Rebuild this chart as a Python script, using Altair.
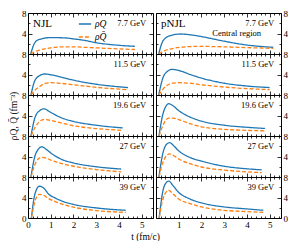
import altair as alt
import pandas as pd

FONT = "Liberation Serif"
BLUE = "#1f77b4"
ORANGE = "#ff7f0e"

energies = ["7.7 GeV", "11.5 GeV", "19.6 GeV", "27 GeV", "39 GeV"]
models = ["NJL", "pNJL"]
series = ["ρQ", "ρQ̄"]
x_major = [0, 1, 2, 3, 4, 5]
x_minor = [round(i * 0.2, 1) for i in range(28) if i % 5 != 0]
y_major = [0, 4, 8]
y_minor = [2, 6]

# NJL panels
njl_77_t = [0.12, 0.3, 0.5, 1.0, 1.6, 2.0, 2.5, 3.0, 4.0, 4.7]
njl_77_q = [0, 2.2, 2.85, 3.2, 3.15, 2.95, 2.65, 2.2, 1.7, 1.5]
njl_77_qb = [0, 0.45, 0.75, 1.2, 1.4, 1.4, 1.3, 1.2, 1.0, 0.88]

njl_115_t = [0.13, 0.3, 0.5, 0.75, 1.0, 1.5, 2.0, 3.0, 4.0, 4.4]
njl_115_q = [0, 2.8, 3.75, 4.1, 3.95, 3.45, 2.9, 2.1, 1.6, 1.45]
njl_115_qb = [0, 0.9, 1.6, 2.25, 2.4, 2.25, 2.0, 1.5, 1.15, 1.05]

njl_196_t = [0.13, 0.3, 0.5, 0.7, 1.0, 1.5, 2.0, 3.0, 4.17]
njl_196_q = [0, 3.5, 4.9, 5.3, 4.6, 3.5, 2.85, 2.1, 1.58]
njl_196_qb = [0, 1.6, 2.8, 3.2, 3.05, 2.5, 2.0, 1.45, 1.1]

njl_27_t = [0.13, 0.3, 0.45, 0.6, 0.8, 1.0, 1.5, 2.0, 3.0, 4.1]
njl_27_q = [0, 4.0, 5.4, 5.9, 5.4, 4.7, 3.4, 2.75, 2.0, 1.55]
njl_27_qb = [0, 2.4, 3.5, 3.85, 3.7, 3.3, 2.6, 2.1, 1.45, 1.0]

njl_39_t = [0.15, 0.3, 0.5, 0.7, 0.9, 1.2, 1.5, 2.0, 3.0, 4.3]
njl_39_q = [0, 4.6, 6.2, 5.8, 4.7, 3.9, 3.3, 2.65, 1.97, 1.5]
njl_39_qb = [0, 3.2, 4.6, 4.4, 3.8, 3.2, 2.7, 2.1, 1.45, 1.1]

# pNJL panels
pnjl_77_t = [0.12, 0.3, 0.6, 1.07, 1.5, 2.0, 2.5, 3.0, 4.0, 5.16]
pnjl_77_q = [0, 2.5, 3.55, 3.9, 3.75, 3.4, 2.95, 2.5, 1.75, 1.3]
pnjl_77_qb = [0, 0.5, 0.95, 1.3, 1.45, 1.5, 1.45, 1.4, 1.25, 1.1]

pnjl_115_t = [0.12, 0.3, 0.5, 0.7, 1.0, 1.5, 2.0, 3.0, 4.0, 5.0]
pnjl_115_q = [0, 3.3, 4.6, 5.0, 4.8, 4.0, 3.3, 2.3, 1.75, 1.45]
pnjl_115_qb = [0, 1.1, 1.9, 2.3, 2.4, 2.3, 2.0, 1.55, 1.25, 1.05]

pnjl_196_t = [0.13, 0.3, 0.45, 0.56, 0.75, 1.0, 1.5, 2.0, 3.0, 4.0, 4.8]
pnjl_196_q = [0, 4.2, 5.9, 6.3, 5.9, 4.95, 3.7, 2.9, 2.1, 1.7, 1.47]
pnjl_196_qb = [0, 2.0, 3.2, 3.5, 3.5, 3.2, 2.4, 1.8, 1.3, 1.1, 1.0]

pnjl_27_t = [0.13, 0.3, 0.45, 0.6, 0.8, 1.0, 1.5, 2.0, 3.0, 4.0, 4.65]
pnjl_27_q = [0, 4.6, 6.3, 6.7, 6.0, 5.1, 3.8, 3.1, 2.1, 1.6, 1.4]
pnjl_27_qb = [0, 2.8, 4.1, 4.5, 4.1, 3.5, 2.6, 1.95, 1.35, 1.0, 0.85]

pnjl_39_t = [0.14, 0.3, 0.45, 0.56, 0.75, 1.0, 1.5, 2.0, 3.0, 4.0, 4.72]
pnjl_39_q = [0, 5.2, 6.9, 7.2, 6.3, 5.0, 3.7, 2.95, 2.16, 1.77, 1.5]
pnjl_39_qb = [0, 3.6, 5.1, 5.4, 4.7, 3.7, 2.8, 2.16, 1.5, 1.25, 1.1]

njl_panels = [(njl_77_t, njl_77_q, njl_77_qb), (njl_115_t, njl_115_q, njl_115_qb),
              (njl_196_t, njl_196_q, njl_196_qb), (njl_27_t, njl_27_q, njl_27_qb),
              (njl_39_t, njl_39_q, njl_39_qb)]
pnjl_panels = [(pnjl_77_t, pnjl_77_q, pnjl_77_qb), (pnjl_115_t, pnjl_115_q, pnjl_115_qb),
               (pnjl_196_t, pnjl_196_q, pnjl_196_qb), (pnjl_27_t, pnjl_27_q, pnjl_27_qb),
               (pnjl_39_t, pnjl_39_q, pnjl_39_qb)]

W, H = 125, 41
XS = alt.Scale(domain=[0, 5.5], nice=False, zero=False)
YS = alt.Scale(domain=[0, 8], nice=False, zero=False)


def tick_axis(orient, values, size):
    return alt.Axis(orient=orient, values=values, labels=False, domain=False, grid=False,
                    tickSize={"expr": str(-size)}, tickColor="black", tickWidth=0.8, title="")


def axis_layer(xa, ya):
    return alt.Chart().mark_point(opacity=0).encode(
        x=alt.X("t:Q", scale=XS, axis=xa),
        y=alt.Y("v:Q", scale=YS, axis=ya),
    )


def panel(row, col, t, q, qb):
    df = pd.DataFrame({"t": t + t, "v": q + qb,
                       "s": [series[0]] * len(t) + [series[1]] * len(t)})
    first = row == 0 and col == 0
    leg = alt.Legend(orient="none", legendX=50, legendY=4, title=None,
                     labelFont=FONT, labelFontStyle="italic", labelFontSize=9.5,
                     symbolType="stroke", symbolSize=150, symbolStrokeWidth=1.5,
                     rowPadding=1, labelOffset=3, padding=0) if first else None
    lines = alt.Chart().mark_line(strokeWidth=1.3, interpolate="monotone").encode(
        x=alt.X("t:Q", scale=XS, axis=None),
        y=alt.Y("v:Q", scale=YS, axis=None),
        color=alt.Color("s:N", scale=alt.Scale(domain=series, range=[BLUE, ORANGE]), legend=leg),
        strokeDash=alt.StrokeDash("s:N", scale=alt.Scale(domain=series, range=[[1, 0], [4, 2]]), legend=leg),
    )
    A = axis_layer(tick_axis("bottom", x_major, 4), tick_axis("left", y_major, 4))
    B = axis_layer(tick_axis("top", x_major, 4), tick_axis("right", y_major, 4))
    C = axis_layer(tick_axis("bottom", x_minor, 2), tick_axis("left", y_minor, 2))
    D = axis_layer(tick_axis("top", x_minor, 2), tick_axis("right", y_minor, 2))

    bottom = row == 4
    yvals = [0, 4, 8] if bottom else [4, 8]
    ytitle = "ρQ, Q̄ (fm⁻³)" if (col == 0 and row == 2) else ""
    ya = alt.Axis(orient="left" if col == 0 else "right", values=yvals, ticks=False,
                  domain=False, grid=False, labelPadding=2, format="d", title=ytitle,
                  titlePadding=3)
    if bottom:
        xa = alt.Axis(orient="bottom", values=x_major if col == 0 else x_major[1:], ticks=False,
                      domain=False, grid=False, labelPadding=2, format="d", labelFlush=False,
                      labelOverlap=False, title="t (fm/c)" if col == 0 else "",
                      titleX=117, titlePadding=2)
    else:
        xa = None
    E = axis_layer(xa, ya)

    e_txt = alt.Chart(pd.DataFrame({"label": [energies[row]]})).mark_text(
        align="right", baseline="alphabetic", fontSize=8.5, font=FONT, color="black").encode(
        x=alt.X(datum=5.2, axis=None), y=alt.Y(datum=5.5, axis=None), text="label:N")
    layers = [lines, A, B, C, D, E, e_txt]
    if row == 0:
        m_txt = alt.Chart(pd.DataFrame({"label": [models[col]]})).mark_text(
            align="left", baseline="alphabetic", fontSize=11, font=FONT, color="black").encode(
            x=alt.X(datum=0.22, axis=None), y=alt.Y(datum=5.2, axis=None), text="label:N")
        layers.append(m_txt)
        if col == 1:
            c_txt = alt.Chart(pd.DataFrame({"label": ["Central region"]})).mark_text(
                align="center", baseline="alphabetic", fontSize=8.5, font=FONT, color="black").encode(
                x=alt.X(datum=3.55, axis=None), y=alt.Y(datum=3.55, axis=None), text="label:N")
            layers.append(c_txt)
    return alt.layer(*layers, data=df).resolve_axis(x="independent", y="independent").properties(
        width=W, height=H)


panels = []
for r in range(5):
    panels.append(panel(r, 0, *njl_panels[r]))
    panels.append(panel(r, 1, *pnjl_panels[r]))

chart = alt.concat(*panels, columns=2, spacing={"row": 0, "column": 3}, bounds="flush").resolve_scale(
    color="independent", strokeDash="independent"
).configure_view(stroke="black", strokeWidth=1).configure_axis(
    labelFont=FONT, titleFont=FONT, labelFontSize=9, titleFontSize=9.5,
    labelColor="black", titleColor="black", titleFontWeight="normal"
).properties(padding={"left": 0, "top": 0, "right": 0, "bottom": 0})

chart.save("out.html", embed_options={"renderer": "svg", "actions": False})
